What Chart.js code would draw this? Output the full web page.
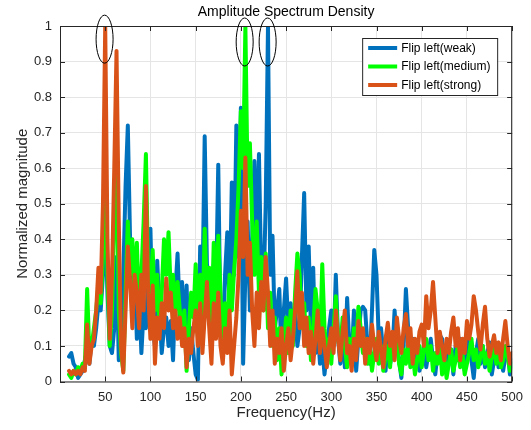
<!DOCTYPE html>
<html>
<head>
<meta charset="utf-8">
<script src="https://cdn.jsdelivr.net/npm/chart.js@4/dist/chart.umd.min.js"></script>
<style>
  html, body { margin: 0; padding: 0; background: #fff; }
  #wrap { width: 531px; height: 430px; }
</style>
</head>
<body>
<div id="wrap"><canvas id="myChart" width="531" height="430"></canvas></div>
<script>
let titleText = "Amplitude Spectrum Density";
let seriesNames = ["Flip left(weak)", "Flip left(medium)", "Flip left(strong)"];
let seriesColors = ["#0072BD", "#00FF00", "#D95319"];

// frequency axis: 10 Hz .. 500 Hz every 2.5 Hz
let freqStart = 10;
let freqStep = 2.5;

let weak = [
  0.07, 0.08, 0.05, 0.04,   0.01, 0.02, 0.03, 0.06,   0.09, 0.05, 0.12, 0.10,
  0.15, 0.22, 0.20, 0.30,   0.45, 0.25, 0.10, 0.08,   0.15, 0.35, 0.06, 0.10,
  0.30, 0.55, 0.72, 0.40,   0.20, 0.32, 0.12, 0.25,   0.08, 0.20, 0.15, 0.30,
  0.43, 0.15, 0.10, 0.34,   0.20, 0.08, 0.15, 0.18,   0.10, 0.17, 0.06, 0.25,
  0.36, 0.18, 0.28, 0.12,   0.27, 0.06, 0.15, 0.08,   0.02, 0.005, 0.38, 0.25,
  0.69, 0.33, 0.22, 0.12,   0.33, 0.25, 0.61, 0.15,   0.10, 0.30, 0.42, 0.20,
  0.56, 0.30, 0.72, 0.35,   0.77, 0.05, 0.30, 0.45,   0.20, 0.40, 0.62, 0.35,
  0.64, 0.30, 0.25, 0.50,   1.00, 0.30, 0.41, 0.15,   0.20, 0.26, 0.07, 0.20,
  0.29, 0.15, 0.22, 0.12,   0.20, 0.10, 0.15, 0.35,   0.53, 0.20, 0.38, 0.15,
  0.32, 0.08, 0.15, 0.05,   0.10, 0.02, 0.08, 0.15,   0.20, 0.10, 0.30, 0.12,
  0.05, 0.15, 0.04, 0.235,  0.10, 0.06, 0.20, 0.03,   0.12, 0.20, 0.21, 0.20,
  0.10, 0.05, 0.20, 0.37,   0.30, 0.12, 0.15, 0.08,   0.03, 0.12, 0.05, 0.08,
  0.20, 0.10, 0.06, 0.01,   0.10, 0.26, 0.15, 0.08,   0.12, 0.05, 0.10, 0.03,
  0.06, 0.10, 0.04, 0.08,   0.12, 0.06, 0.02, 0.08,   0.13, 0.12, 0.04, 0.10,
  0.05, 0.09, 0.02, 0.10,   0.06, 0.12, 0.10, 0.03,   0.07, 0.12, 0.06, 0.01,
  0.08, 0.12, 0.05, 0.10,   0.04, 0.08, 0.11, 0.02,   0.06, 0.10, 0.04, 0.08,
  0.03, 0.07, 0.10, 0.02,   0.06
];

let medium = [
  0.02, 0.01, 0.03, 0.02,   0.04, 0.03, 0.05, 0.04,   0.26, 0.08, 0.10, 0.15,
  0.20, 0.27, 0.22, 0.35,   0.66, 0.30, 0.10, 0.20,   0.45, 0.66, 0.20, 0.08,
  0.03, 0.25, 0.45, 0.30,   0.40, 0.25, 0.39, 0.20,   0.30, 0.45, 0.64, 0.30,
  0.25, 0.37, 0.20, 0.30,   0.15, 0.25, 0.40, 0.30,   0.42, 0.25, 0.30, 0.18,
  0.28, 0.20, 0.12, 0.20,   0.03, 0.15, 0.25, 0.18,   0.33, 0.20, 0.30, 0.15,
  0.43, 0.25, 0.32, 0.15,   0.39, 0.20, 0.41, 0.25,   0.10, 0.22, 0.15, 0.30,
  0.20, 0.31, 0.40, 0.55,   0.76, 0.60, 1.00, 0.55,   0.67, 0.45, 0.30, 0.45,
  0.25, 0.35, 0.20, 0.36,   0.15, 0.25, 0.10, 0.18,   0.06, 0.15, 0.02, 0.10,
  0.18, 0.08, 0.20, 0.10,   0.25, 0.36, 0.30, 0.15,   0.22, 0.10, 0.18, 0.06,
  0.15, 0.26, 0.20, 0.10,   0.33, 0.15, 0.08, 0.12,   0.05, 0.15, 0.24, 0.12,
  0.08, 0.18, 0.10, 0.04,   0.12, 0.06, 0.15, 0.10,   0.21, 0.15, 0.08, 0.12,
  0.05, 0.10, 0.03, 0.08,   0.12, 0.05, 0.10, 0.03,   0.07, 0.10, 0.04, 0.12,
  0.08, 0.13, 0.05, 0.02,   0.09, 0.05, 0.11, 0.04,   0.08, 0.02, 0.06, 0.10,
  0.04, 0.09, 0.12, 0.06,   0.10, 0.03, 0.08, 0.05,   0.11, 0.02, 0.07, 0.01,
  0.05, 0.09, 0.03, 0.06,   0.10, 0.04, 0.08, 0.02,   0.05, 0.08, 0.12, 0.06,
  0.09, 0.04, 0.07, 0.10,   0.05, 0.08, 0.03, 0.07,   0.10, 0.05, 0.09, 0.04,
  0.06, 0.10, 0.07, 0.03,   0.05
];

let strong = [
  0.03, 0.02, 0.03, 0.02,   0.03, 0.02, 0.04, 0.03,   0.16, 0.05, 0.10, 0.12,
  0.20, 0.32, 0.25, 0.50,   1.00, 0.40, 0.12, 0.30,   0.60, 0.93, 0.45, 0.10,
  0.025, 0.20, 0.38, 0.28,  0.15, 0.30, 0.25, 0.15,   0.30, 0.20, 0.55, 0.25,
  0.12, 0.27, 0.05, 0.18,   0.12, 0.22, 0.15, 0.29,   0.20, 0.25, 0.15, 0.20,
  0.12, 0.18, 0.10, 0.15,   0.04, 0.12, 0.08, 0.15,   0.20, 0.10, 0.22, 0.08,
  0.18, 0.28, 0.15, 0.05,   0.22, 0.12, 0.25, 0.10,   0.05, 0.15, 0.08, 0.20,
  0.02, 0.10, 0.18, 0.30,   0.48, 0.35, 0.63, 0.30,   0.39, 0.20, 0.10, 0.25,
  0.15, 0.28, 0.20, 0.35,   0.25, 0.10, 0.20, 0.05,   0.12, 0.08, 0.15, 0.03,
  0.10, 0.15, 0.06, 0.12,   0.20, 0.31, 0.15, 0.25,   0.10, 0.18, 0.08, 0.14,
  0.05, 0.12, 0.20, 0.08,   0.15, 0.10, 0.04, 0.10,   0.15, 0.08, 0.20, 0.12,
  0.06, 0.14, 0.20, 0.08,   0.10, 0.03, 0.12, 0.06,   0.17, 0.10, 0.15, 0.05,
  0.12, 0.08, 0.16, 0.10,   0.06, 0.14, 0.09, 0.04,   0.12, 0.165, 0.10, 0.14,
  0.06, 0.18, 0.12, 0.08,   0.15, 0.19, 0.10, 0.15,   0.05, 0.12, 0.08, 0.14,
  0.16, 0.10, 0.24, 0.15,   0.20, 0.28, 0.18, 0.08,   0.14, 0.10, 0.06, 0.12,
  0.08, 0.14, 0.18, 0.10,   0.15, 0.06, 0.12, 0.08,   0.17, 0.12, 0.16, 0.24,
  0.20, 0.14, 0.09, 0.16,   0.21, 0.12, 0.07, 0.10,   0.13, 0.08, 0.11, 0.06,
  0.12, 0.17, 0.10, 0.05,   0.08
];

// circled peaks: [Hz, magnitude]
let markedPeaks = [[49.3, 0.963], [204.2, 0.955], [229.6, 0.955]];

let xTicksStep = 50;
let yTicksStep = 0.1;

let freqs = weak.map((v, i) => freqStart + i * freqStep);

function toPoints(values) {
  return values.map((v, i) => ({ x: freqs[i], y: v }));
}

let axisColor = "#262626";
let gridColor = "#e5e5e5";
let fontFamily = "'Liberation Sans', Arial, sans-serif";

let matlabFrame = {
  id: "matlabFrame",
  afterDraw(chart) {
    let ctx = chart.ctx;
    let a = chart.chartArea;
    let xs = chart.scales.x;
    let ys = chart.scales.y;
    ctx.save();
    // box
    ctx.strokeStyle = axisColor;
    ctx.lineWidth = 1;
    ctx.strokeRect(a.left + 0.5, a.top + 0.5, a.right - a.left - 1, a.bottom - a.top);
    // inward ticks on all four sides
    ctx.beginPath();
    xs.ticks.forEach((t) => {
      let px = Math.round(xs.getPixelForValue(t.value)) + 0.5;
      ctx.moveTo(px, a.bottom); ctx.lineTo(px, a.bottom - 5);
      ctx.moveTo(px, a.top); ctx.lineTo(px, a.top + 5);
    });
    ys.ticks.forEach((t) => {
      let py = Math.round(ys.getPixelForValue(t.value)) + 0.5;
      ctx.moveTo(a.left, py); ctx.lineTo(a.left + 5, py);
      ctx.moveTo(a.right, py); ctx.lineTo(a.right - 5, py);
    });
    ctx.stroke();

    // title
    ctx.fillStyle = "#000";
    ctx.font = "14px " + fontFamily;
    ctx.textAlign = "center";
    ctx.textBaseline = "middle";
    ctx.fillText(titleText, (a.left + a.right) / 2, 12);

    // ellipses around the peaks
    ctx.strokeStyle = "#000";
    ctx.lineWidth = 1;
    markedPeaks.forEach(([hz, mag]) => {
      ctx.beginPath();
      ctx.ellipse(xs.getPixelForValue(hz), ys.getPixelForValue(mag), 8.5, 24, 0, 0, Math.PI * 2);
      ctx.stroke();
    });

    // legend box
    let boxW = 135, boxH = 57;
    let bx = a.right - 15 - boxW, by = a.top + 12;
    ctx.fillStyle = "#fff";
    ctx.fillRect(bx, by, boxW, boxH);
    ctx.strokeStyle = axisColor;
    ctx.strokeRect(bx + 0.5, by + 0.5, boxW, boxH);
    ctx.font = "12px " + fontFamily;
    ctx.textAlign = "left";
    chart.data.datasets.forEach((ds, i) => {
      let ly = by + 10 + i * 18.5;
      ctx.strokeStyle = ds.borderColor;
      ctx.lineWidth = 4;
      ctx.beginPath();
      ctx.moveTo(bx + 6, ly);
      ctx.lineTo(bx + 35, ly);
      ctx.stroke();
      ctx.fillStyle = "#000";
      ctx.fillText(ds.label, bx + 39, ly + 0.5);
    });
    ctx.restore();
  },
};

function getChart() {
  let ctx = document.getElementById("myChart").getContext("2d");
  let datasets = [weak, medium, strong].map((values, i) => ({
    label: seriesNames[i],
    data: toPoints(values),
    borderColor: seriesColors[i],
    backgroundColor: seriesColors[i],
    borderWidth: 4,
    borderJoinStyle: "round",
    borderCapStyle: "round",
    pointRadius: 0,
    tension: 0,
    order: 2 - i,
  }));
  return new Chart(ctx, {
    type: "line",
    data: { datasets: datasets },
    options: {
      responsive: false,
      animation: false,
      layout: { padding: { top: 26, right: 18, left: 0, bottom: 0 } },
      plugins: {
        legend: { display: false },
        tooltip: { enabled: false },
        title: { display: false },
      },
      scales: {
        x: {
          type: "linear",
          min: 0,
          max: 500,
          afterFit: (s) => { s.height = 48.5; },
          border: { display: false },
          grid: { color: gridColor, drawTicks: false },
          ticks: {
            stepSize: xTicksStep,
            padding: 8,
            color: axisColor,
            font: { family: fontFamily, size: 13 },
            maxRotation: 0,
            callback: (v) => (v === 0 ? "" : v),
          },
          title: {
            display: true,
            text: "Frequency(Hz)",
            color: axisColor,
            font: { family: fontFamily, size: 15 },
            padding: { top: 0, bottom: 8 },
          },
        },
        y: {
          min: 0,
          max: 1,
          afterFit: (s) => { s.width = 60; },
          border: { display: false },
          grid: { color: gridColor, drawTicks: false },
          ticks: {
            stepSize: yTicksStep,
            padding: 8,
            color: axisColor,
            font: { family: fontFamily, size: 13 },
            callback: (v) => String(+v.toFixed(1)),
          },
          title: {
            display: true,
            text: "Normalized magnitude",
            color: axisColor,
            font: { family: fontFamily, size: 15 },
            padding: { top: 14, bottom: 0 },
          },
        },
      },
    },
    plugins: [matlabFrame],
  });
}

getChart();
</script>
</body>
</html>
